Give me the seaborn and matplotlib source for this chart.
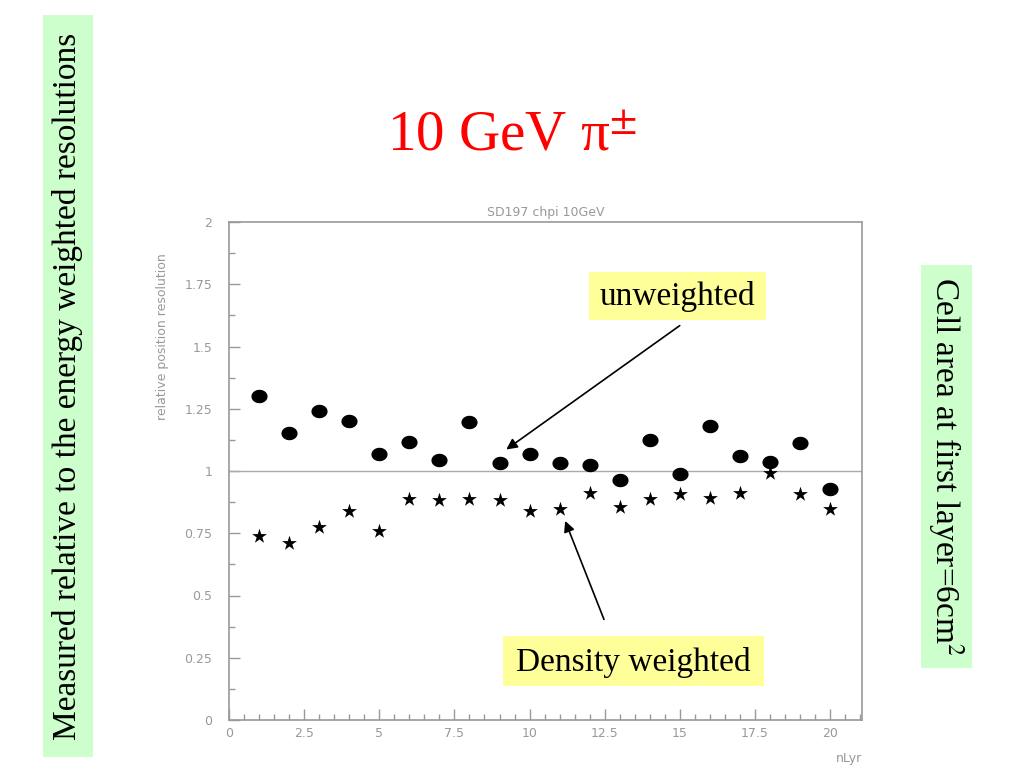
import numpy as np
import pandas as pd
import matplotlib
matplotlib.use("Agg")
import matplotlib.pyplot as plt
from matplotlib.path import Path
from matplotlib.patches import Rectangle
import seaborn as sns

# ---- data ----
layers = list(range(1, 21))
unweighted = [1.302, 1.153, 1.240, 1.202, 1.068, 1.118, 1.045, 1.195, 1.034, 1.068,
              1.032, 1.025, 0.965, 1.124, 0.986, 1.180, 1.062, 1.035, 1.114, 0.926]
density_weighted = [0.737, 0.712, 0.775, 0.838, 0.758, 0.886, 0.883, 0.886, 0.883, 0.841,
                    0.846, 0.913, 0.856, 0.886, 0.906, 0.892, 0.913, 0.992, 0.907, 0.846]
y_ticks = [0, 0.25, 0.5, 0.75, 1, 1.25, 1.5, 1.75, 2]
y_tick_labels = ["0", "0.25", "0.5", "0.75", "1", "1.25", "1.5", "1.75", "2"]
x_ticks = [0, 2.5, 5, 7.5, 10, 12.5, 15, 17.5, 20]
x_tick_labels = ["0", "2.5", "5", "7.5", "10", "12.5", "15", "17.5", "20"]

df = pd.DataFrame({"nLyr": layers, "unweighted": unweighted, "density": density_weighted})

sns.set_style("white")
plt.rcParams["font.family"] = ["DejaVu Sans"]
plt.rcParams["mathtext.fontset"] = "stix"

W, H = 1024, 768
fig = plt.figure(figsize=(10.24, 7.68), dpi=100)
fig.patch.set_facecolor("white")

def fx(x):
    return x / W

def fy(y):
    return 1 - y / H

gray = "#999999"
serif = ["Liberation Serif", "DejaVu Serif"]

# green side boxes
fig.patches.append(Rectangle((fx(43), fy(757)), fx(93) - fx(43), fy(15) - fy(757),
                             transform=fig.transFigure, facecolor="#ccffcc", edgecolor="none", zorder=0))
fig.text(fx(68), fy(386), "Measured relative to the energy weighted resolutions",
         rotation=90, ha="center", va="center", fontsize=24, family=serif, color="black")
fig.patches.append(Rectangle((fx(921), fy(668)), fx(972) - fx(921), fy(265) - fy(668),
                             transform=fig.transFigure, facecolor="#ccffcc", edgecolor="none", zorder=0))
fig.text(fx(946), fy(466), "Cell area at first layer=6cm$^{2}$",
         rotation=-90, ha="center", va="center", fontsize=24, family=serif, color="black")

# big title
fig.text(fx(512), fy(136), "10 GeV π$^{\\pm}$", ha="center", va="center",
         fontsize=41, family=serif, color="#ff0000")

# main axes
ax = fig.add_axes([fx(229), fy(720), fx(862) - fx(229), fy(222) - fy(720)])
ax.set_facecolor("white")

# elliptical dot marker
t = np.linspace(0, 2 * np.pi, 60)
ell = Path(np.column_stack([0.6 * np.cos(t), 0.5 * np.sin(t)]), closed=True)

sns.scatterplot(data=df, x="nLyr", y="unweighted", ax=ax, marker=ell, s=135,
                color="black", edgecolor="black", linewidth=0, zorder=3, legend=False)
sns.scatterplot(data=df, x="nLyr", y="density", ax=ax, marker="*", s=125,
                color="black", edgecolor="black", linewidth=0, zorder=3, legend=False)

ax.axhline(1, color="#aaaaaa", lw=1, zorder=1)

ax.set_xlim(0, 21.06)
ax.set_ylim(0, 2)
ax.set_xticks(x_ticks)
ax.set_xticklabels(x_tick_labels)
ax.set_yticks(y_ticks)
ax.set_yticklabels(y_tick_labels)
ax.set_xticks(np.arange(0, 21.01, 0.5), minor=True)
ax.set_yticks(np.arange(0, 2.001, 0.125), minor=True)
ax.tick_params(axis="both", which="both", bottom=True, left=True, top=False, right=False)
ax.tick_params(axis="both", which="major", direction="in", length=8, width=1,
               color=gray, labelcolor=gray, labelsize=9)
ax.tick_params(axis="both", which="minor", direction="in", length=4, width=1, color=gray)
ax.tick_params(axis="y", which="major", pad=12)
ax.tick_params(axis="x", which="major", pad=5)
for sp in ax.spines.values():
    sp.set_color(gray)
    sp.set_linewidth(1.2)

ax.set_title("SD197 chpi 10GeV", fontsize=9, color=gray, pad=4)
ax.set_ylabel("relative position resolution", fontsize=9, color=gray)
ax.yaxis.set_label_coords(-0.095, 0.77)
ax.set_xlabel("nLyr", fontsize=9, color=gray, ha="right")
ax.xaxis.set_label_coords(1.0, -0.064)

# annotation boxes (figure coords)
fig.patches.append(Rectangle((fx(589), fy(320)), fx(766) - fx(589), fy(272) - fy(320),
                             transform=fig.transFigure, facecolor="#ffff99", edgecolor="none", zorder=5))
fig.text(fx(677), fy(297), "unweighted", ha="center", va="center", fontsize=24,
         family=serif, color="black", zorder=6)
fig.patches.append(Rectangle((fx(503), fy(686)), fx(764) - fx(503), fy(636) - fy(686),
                             transform=fig.transFigure, facecolor="#ffff99", edgecolor="none", zorder=5))
fig.text(fx(633), fy(662), "Density weighted", ha="center", va="center", fontsize=24,
         family=serif, color="black", zorder=6)

# arrows
ax.annotate("", xy=(9.15, 1.08), xycoords="data",
            xytext=(fx(682), fy(324)), textcoords="figure fraction",
            arrowprops=dict(arrowstyle="-|>", color="black", lw=1.2, mutation_scale=16))
ax.annotate("", xy=(11.15, 0.81), xycoords="data",
            xytext=(fx(605), fy(622)), textcoords="figure fraction",
            arrowprops=dict(arrowstyle="-|>", color="black", lw=1.2, mutation_scale=16))

fig.savefig("out.png", dpi=100, facecolor="white")
